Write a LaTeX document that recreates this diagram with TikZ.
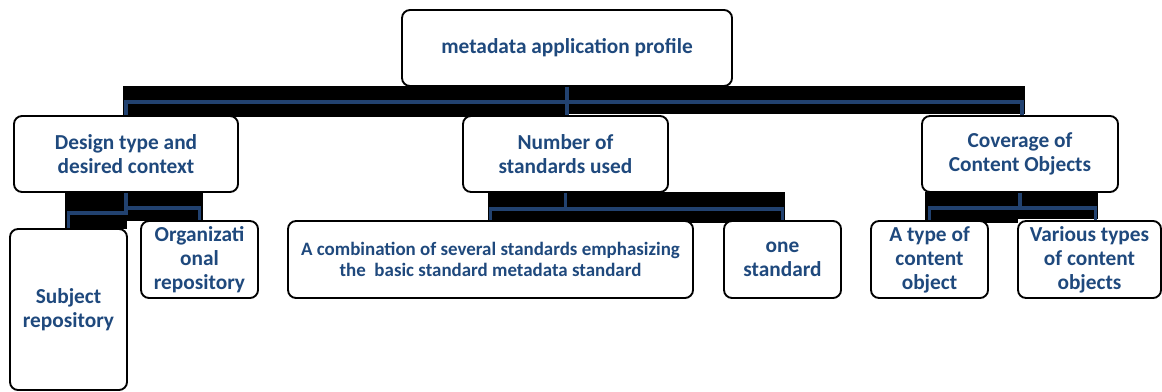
\documentclass[tikz,border=0pt]{standalone}
\usepackage{fontspec}
\setmainfont{Carlito}
\definecolor{txtblue}{RGB}{31,73,125}
\definecolor{lineblue}{RGB}{34,66,112}
\begin{document}
\begin{tikzpicture}[x=0.75pt,y=-0.75pt,
  box/.style={draw=black, line width=1.4pt, rounded corners=6pt, fill=white,
    inner sep=0pt, align=center, text=txtblue,
    font=\bfseries\fontsize{16}{18}\selectfont},
  smalltext/.style={font=\bfseries\fontsize{14.2}{16.1}\selectfont},
  conn/.style={draw=lineblue, line width=2.4pt},
  blk/.style={fill=black}]
\fill[white] (0,0) rectangle (1162,392);
\path[use as bounding box] (0,0) rectangle (1162,392);
% black backgrounds behind connectors
\fill[blk] (123,86) rectangle (565,117);
\fill[blk] (565,86) rectangle (1025,114);
\fill[blk] (65,192) rectangle (203,221);
\fill[blk] (65,221) rectangle (127,229);
\fill[blk] (488,192) rectangle (560,220);
\fill[blk] (560,192) rectangle (785,223);
\fill[blk] (925,192) rectangle (1018,223);
\fill[blk] (1018,192) rectangle (1098,219);
% nodes
\node[box, minimum width=247.5pt, minimum height=57pt] (top) at (567,48) {metadata application profile};
\node[box, minimum width=168pt, minimum height=57pt] (left) at (126,154) {Design type and\\desired context};
\node[box, minimum width=153.75pt, minimum height=57pt] (mid) at (565.5,154) {Number of\\standards used};
\node[box, minimum width=147pt, minimum height=57pt] (right) at (1020,154) {Coverage of\\Content Objects};
\node[box, minimum width=87.75pt, minimum height=120.75pt] (subj) at (68.5,309.5) {Subject\\repository};
\node[box, minimum width=87.75pt, minimum height=57.75pt] (org) at (199.5,259.5) {Organizati\\onal\\repository};
\node[box, smalltext, minimum width=303.75pt, minimum height=57.75pt] (comb) at (490.5,259.5) {A combination of several standards emphasizing\\the\ \ basic standard metadata standard};
\node[box, minimum width=87.75pt, minimum height=57.75pt] (one) at (782.5,259.5) {one\\standard};
\node[box, minimum width=87.75pt, minimum height=57.75pt] (atype) at (929.5,259.5) {A type of\\content\\object};
\node[box, minimum width=107.25pt, minimum height=57.75pt] (various) at (1089.5,259.5) {Various types\\of content\\objects};
% connectors
\draw[conn] (top.south) -- ++(0,15) -| (left.north);
\draw[conn] (top.south) -- (top.south |- mid.north);
\draw[conn] (top.south) -- ++(0,15) -| ([xshift=1.5pt]right.north);
\draw[conn] (left.south) -- ++(0,15) -| (org.north);
\draw[conn] (left.south) -- ++(0,20) -| (subj.north);
\draw[conn] (mid.south) -- ++(0,16) -| (comb.north);
\draw[conn] (mid.south) -- ++(0,16) -| (one.north);
\draw[conn] (right.south) -- ++(0,15) -| (atype.north);
\draw[conn] (right.south) -- ++(0,15) -| ([xshift=4.5pt]various.north);
\end{tikzpicture}
\end{document}
